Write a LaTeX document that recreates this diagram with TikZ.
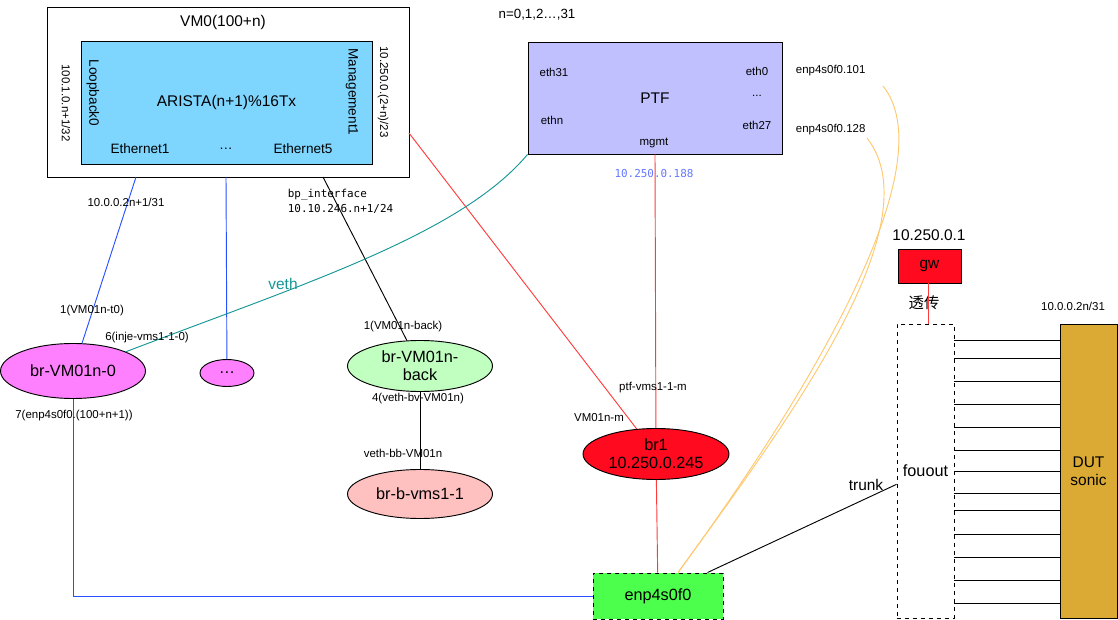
\documentclass[tikz,border=0pt]{standalone}
\usepackage{fontspec}
\setmainfont{Liberation Sans}
\setmonofont{DejaVu Sans Mono}
\newfontfamily\cjk{Noto Sans CJK SC}
\usepackage{xcolor}
\usepackage{tikz}
\usetikzlibrary{positioning,shapes.geometric}

\definecolor{aristablue}{RGB}{126,214,255}
\definecolor{ptfblue}{RGB}{192,192,255}
\definecolor{brpink}{RGB}{255,128,255}
\definecolor{backgreen}{RGB}{192,255,192}
\definecolor{bbpink}{RGB}{255,192,192}
\definecolor{brred}{RGB}{255,10,30}
\definecolor{enpgreen}{RGB}{77,255,77}
\definecolor{dutgold}{RGB}{218,170,53}
\definecolor{linkblue}{RGB}{40,80,255}
\definecolor{linkred}{RGB}{255,60,60}
\definecolor{linkteal}{RGB}{20,150,150}
\definecolor{linkorange}{RGB}{255,200,110}
\definecolor{ipblue}{RGB}{100,120,255}

\begin{document}
\begin{tikzpicture}[x=0.75pt,y=-0.75pt,line width=0.7pt,
    small/.style={font=\fontsize{8.6}{10}\selectfont},
    mid/.style={font=\fontsize{10.2}{12}\selectfont},
    big/.style={font=\fontsize{11.6}{13.5}\selectfont},
    mono/.style={font=\ttfamily\fontsize{8.2}{11.25}\selectfont},
    box/.style={rectangle,draw,inner sep=0pt,align=center},
    bridge/.style={ellipse,draw,inner sep=0pt,align=center,font=\fontsize{12.2}{13.5}\selectfont}]
    \useasboundingbox (0,0) rectangle (1118,620);

    \node(vm0) [box,minimum width=271.5pt,minimum height=127.5pt] at (228,92){};
    \node(vm0title) [big] at (223,23){VM0(100+n)};
    \node(arista) [box,fill=aristablue,minimum width=218.25pt,minimum height=92.25pt,big] at (226.5,102.5){ARISTA(n+1)\%16Tx};
    \node(lo0) [mid,rotate=-90] at (93,93){Loopback0};
    \node(lo0ip) [small,rotate=-90] at (66,103){100.1.0.n+1/32};
    \node(ma1) [mid,rotate=-90] at (352,92){Management1};
    \node(ma1ip) [small,rotate=-90] at (383,92){10.250.0.(2+n)/23};
    \node(eth1) [mid] at (140,149){Ethernet1};
    \node(ethdots) [mid] at (226,149){…};
    \node(eth5) [mid] at (303,149){Ethernet5};

    \node(nrange) [font=\fontsize{10}{12}\selectfont] at (537,15){n=0,1,2…,31};
    \node(ptf) [box,fill=ptfblue,minimum width=190.5pt,minimum height=84pt,big] at (655,98){PTF};
    \node(eth31) [small] at (554,72){eth31};
    \node(ethn) [small] at (552,120){ethn};
    \node(eth0) [small] at (757,71){eth0};
    \node(ptfdots) [small] at (757,96){...};
    \node(eth27) [small] at (757,125){eth27};
    \node(mgmt) [small] at (654,143){mgmt};
    \node(mgmtip) [mono,text=ipblue] at (654,174){10.250.0.188};
    \node(vlan101) [small,anchor=west] at (791,71){enp4s0f0.101};
    \node(vlan128) [small,anchor=west] at (791,130){enp4s0f0.128};

    \node(br0) [bridge,fill=brpink,minimum width=108.75pt,minimum height=41.25pt] at (73,371){br-VM01n-0};
    \node(brdots) [bridge,fill=brpink,minimum width=40.5pt,minimum height=20.25pt] at (227,373){…};
    \node(brback) [bridge,fill=backgreen,minimum width=108.75pt,minimum height=38.25pt] at (420,366){br-VM01n-\\back};
    \node(brbb) [bridge,fill=bbpink,minimum width=108.75pt,minimum height=36.75pt] at (420,494){br-b-vms1-1};
    \node(br1) [bridge,fill=brred,minimum width=109.5pt,minimum height=38.25pt] at (656,454){br1\\10.250.0.245};
    \node(enp) [box,dashed,fill=enpgreen,minimum width=97.5pt,minimum height=34.5pt,font=\fontsize{12.2}{14}\selectfont] at (658,596){enp4s0f0};

    \node(gwip) [big] at (929,235){10.250.0.1};
    \node(gw) [box,fill=brred,minimum width=47.25pt,minimum height=25.5pt,big] at (929.5,266){gw};
    \node(passthru) [font=\cjk\fontsize{11.5}{13}\selectfont] at (924,303){透传};
    \node(fouout) [box,dashed,minimum width=42.75pt,minimum height=220.5pt,font=\fontsize{12.2}{14}\selectfont] at (925.5,471){fouout};
    \node(dutip) [small] at (1073,306){10.0.0.2n/31};
    \node(dut) [box,fill=dutgold,minimum width=42.75pt,minimum height=220.5pt,big] at (1088.5,471){DUT\\sonic};

    \coordinate(vmeth1) at (136,177);
    \coordinate(vmdots) at (226,177);
    \coordinate(vmeth5) at (323,177);
    \coordinate(vmmgmt) at (409,133);
    \coordinate(end101) at (883,86);
    \coordinate(end128) at (867,138);

    \draw[linkblue] (vmeth1) -- (br0);
    \draw[linkblue] (vmdots) -- (brdots);
    \draw (vmeth5) -- (brback);
    \draw (brback) -- (brbb);
    \draw[linkred] (vmmgmt) -- (br1);
    \draw[linkred] (ptf.south) -- (br1);
    \draw[linkred] (br1) -- (enp);
    \draw[linkred] ([xshift=-1.1pt]gw.south) -- ([xshift=-1.1pt]gw.south |- fouout.north);
    \draw[linkteal] (ptf.south west) .. controls (460,235) and (300,285) .. (br0.20);
    \draw[linkblue] (br0.south) |- (enp.west);
    \draw[linkorange] ([xshift=15pt]enp.north) .. controls (790,420) and (950,170) .. (end101);
    \draw[linkorange] ([xshift=15pt]enp.north) .. controls (785,425) and (935,225) .. (end128);
    \draw ([xshift=-12pt]enp.north east) -- ([yshift=-10pt]fouout.west);
    \foreach \y in {340,358,381,404,427,450,471,493,510,534,557,580,603}{
        \path (0,\y) coordinate (row);
        \draw (fouout.east |- row) -- (dut.west |- row);
    }

    \node(eth1ip) [small] at (126,202){10.0.0.2n+1/31};
    \node(bpif) [mono,align=left,anchor=west] at (283,201.5){bp\_interface\\10.10.246.n+1/24};
    \node(t0port) [small] at (92,311){1(VM01n-t0)};
    \node(injport) [small] at (147,338){6(inje-vms1-1-0)};
    \node(enpport) [small] at (74,416){7(enp4s0f0.(100+n+1))};
    \node(veth) [font=\fontsize{11.6}{13}\selectfont,text=linkteal] at (283,284){veth};
    \node(backport) [small] at (403,327){1(VM01n-back)};
    \node(bvport) [small] at (418,399){4(veth-bv-VM01n)};
    \node(bbport) [small] at (403,453){veth-bb-VM01n};
    \node(ptfm) [small] at (653,388){ptf-vms1-1-m};
    \node(vmm) [small] at (599,418){VM01n-m};
    \node(trunk) [big] at (866,485){trunk};
\end{tikzpicture}
\end{document}
